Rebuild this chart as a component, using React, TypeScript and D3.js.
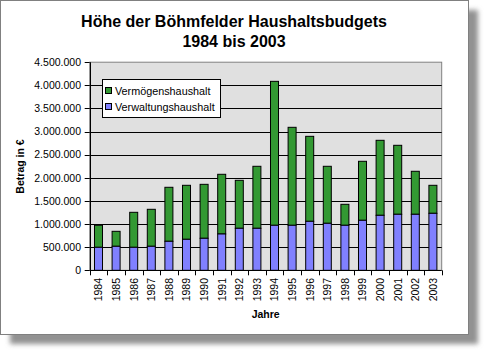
import React from "react";
import * as d3 from "d3";

const years = ["1984","1985","1986","1987","1988","1989","1990","1991","1992","1993","1994","1995","1996","1997","1998","1999","2000","2001","2002","2003"];
// Verwaltungshaushalt (lower, blue)
const verwaltung = [497000, 519000, 497000, 519000, 627000, 670000, 692000, 785000, 908000, 908000, 973000, 973000, 1059000, 1016000, 973000, 1081000, 1189000, 1211000, 1211000, 1232000];
// Totals (top of green)
const totals = [973000, 843000, 1254000, 1319000, 1795000, 1838000, 1859000, 2076000, 1946000, 2249000, 4086000, 3092000, 2897000, 2249000, 1427000, 2357000, 2811000, 2703000, 2141000, 1838000];
const vermoegen = totals.map((t, i) => t - verwaltung[i]);
const yTicks = [0, 500000, 1000000, 1500000, 2000000, 2500000, 3000000, 3500000, 4000000, 4500000];
const seriesNames = ["Vermögenshaushalt", "Verwaltungshaushalt"];
const colors = { verm: "#339933", verw: "#8080ff" };

const fmt = (v: number) => (v === 0 ? "0" : d3.format(",")(v).replace(/,/g, "."));

export default function App() {
  const W = 484, H = 351;
  const left = 89.7, right = 441.7, top = 62.2, bottom = 270.3;
  const x = d3.scaleBand<string>().domain(years).range([left, right]).paddingInner(0.545).paddingOuter(0.2725);
  const y = d3.scaleLinear().domain([0, 4500000]).range([bottom, top]);
  const step = x.step();
  const font = "'Liberation Sans', Arial, sans-serif";

  return (
    <svg width={W} height={H} style={{ position: "absolute", left: 0, top: 0 }} fontFamily={font}>
      <defs>
        <filter id="sh" x="-10%" y="-10%" width="120%" height="120%">
          <feGaussianBlur stdDeviation="2.5" />
        </filter>
      </defs>
      <rect x={0} y={0} width={W} height={H} fill="#ffffff" />
      <rect x={10} y={10} width={468} height={334} fill="#929292" filter="url(#sh)" />
      <rect x={0.5} y={0.5} width={468} height={334} fill="#ffffff" stroke="#808080" strokeWidth={1} />

      {/* Title */}
      <text x={234} y={26.5} textAnchor="middle" fontSize={16} fontWeight="bold">Höhe der Böhmfelder Haushaltsbudgets</text>
      <text x={234} y={46.5} textAnchor="middle" fontSize={16} fontWeight="bold">1984 bis 2003</text>

      {/* Plot area */}
      <rect x={left} y={top} width={right - left} height={bottom - top} fill="#e0e0e0" stroke="#808080" strokeWidth={1} />
      {yTicks.filter(t => t > 0 && t < 4500000).map(t => (
        <line key={t} x1={left} x2={right} y1={Math.round(y(t)) + 0.5} y2={Math.round(y(t)) + 0.5} stroke="#000" strokeWidth={1} />
      ))}

      {/* Bars */}
      {years.map((yr, i) => (
        <g key={yr}>
          <rect x={x(yr)!} y={y(totals[i])} width={x.bandwidth()} height={y(verwaltung[i]) - y(totals[i])} fill={colors.verm} stroke="#000" strokeWidth={1} />
          <rect x={x(yr)!} y={y(verwaltung[i])} width={x.bandwidth()} height={bottom - y(verwaltung[i])} fill={colors.verw} stroke="#000" strokeWidth={1} />
        </g>
      ))}

      {/* Y axis */}
      <line x1={Math.round(left) + 0.5} x2={Math.round(left) + 0.5} y1={top} y2={bottom} stroke="#000" />
      {yTicks.map(t => (
        <g key={t}>
          <line x1={left - 5} x2={left} y1={Math.round(y(t)) + 0.5} y2={Math.round(y(t)) + 0.5} stroke="#000" />
          <text x={81} y={y(t) + 3.8} textAnchor="end" fontSize={10.5}>{fmt(t)}</text>
        </g>
      ))}
      <text transform={`translate(24,${166.5}) rotate(-90)`} textAnchor="middle" fontSize={10.5} fontWeight="bold">Betrag in €</text>

      {/* X axis */}
      <line x1={left} x2={right} y1={Math.round(bottom) + 0.5} y2={Math.round(bottom) + 0.5} stroke="#000" />
      {d3.range(years.length + 1).map(i => {
        const xx = Math.round(left + i * step) + 0.5;
        return <line key={i} x1={xx} x2={xx} y1={bottom} y2={bottom + 5} stroke="#000" />;
      })}
      {years.map(yr => (
        <text key={yr} transform={`translate(${x(yr)! + x.bandwidth() / 2 + 3.8},278) rotate(-90)`} textAnchor="end" fontSize={10.5}>{yr}</text>
      ))}
      <text x={(left + right) / 2} y={317.5} textAnchor="middle" fontSize={10.5} fontWeight="bold">Jahre</text>

      {/* Legend */}
      <rect x={102.5} y={79.5} width={118} height={38} fill="#fff" stroke="#000" />
      {seriesNames.map((n, i) => (
        <g key={n}>
          <rect x={105.5} y={87.5 + i * 16} width={6} height={6} fill={i === 0 ? colors.verm : colors.verw} stroke="#000" />
          <text x={115} y={94.5 + i * 16} fontSize={10.8}>{n}</text>
        </g>
      ))}
    </svg>
  );
}
